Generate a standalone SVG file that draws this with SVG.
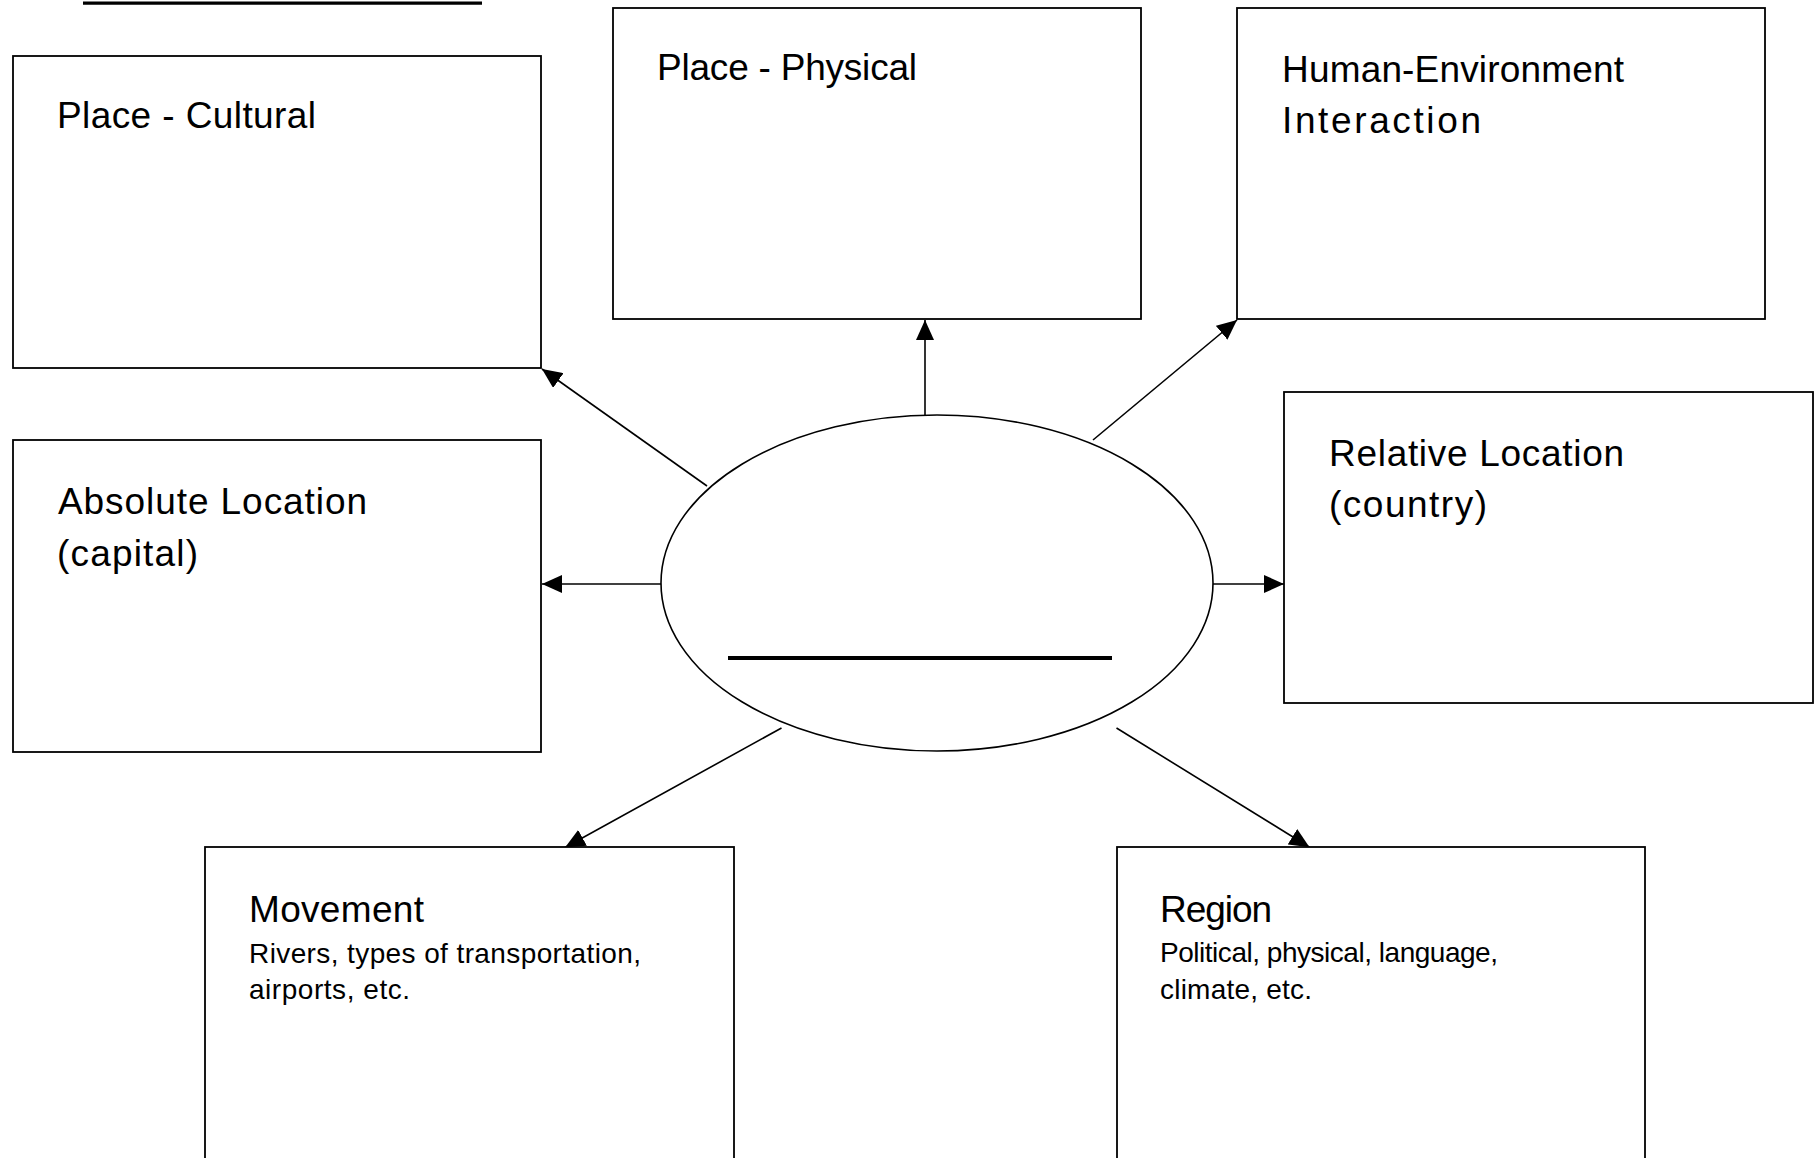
<svg xmlns="http://www.w3.org/2000/svg" width="1820" height="1158" viewBox="0 0 1820 1158">
  <style>
    .box { fill: #ffffff; stroke: #000000; stroke-width: 1.8; }
    .conn { fill: none; stroke: #000000; stroke-width: 1.6; }
    .title { font-family: "Liberation Sans", Arial, sans-serif; font-size: 37px; fill: #000000; }
    .sub { font-family: "Liberation Sans", Arial, sans-serif; font-size: 28px; fill: #000000; }
    .blank { stroke: #000000; fill: none; }
  </style>
  <defs>
    <marker id="arrow" markerUnits="userSpaceOnUse" markerWidth="20" markerHeight="18" viewBox="0 0 20 18" refX="20" refY="9" orient="auto">
      <path d="M0,0 L20,9 L0,18 z" fill="#000000"/>
    </marker>
  </defs>
  <rect x="0" y="0" width="1820" height="1158" fill="#ffffff"/>

  <g id="name-blank">
    <line class="blank" x1="83" y1="3.2" x2="482" y2="3.2" stroke-width="3.2"/>
  </g>

  <g id="connectors">
    <line class="conn" x1="707" y1="486" x2="542" y2="369" marker-end="url(#arrow)"/>
    <line class="conn" x1="925" y1="415" x2="925" y2="320" marker-end="url(#arrow)"/>
    <line class="conn" x1="1093" y1="440" x2="1237" y2="320" marker-end="url(#arrow)"/>
    <line class="conn" x1="661" y1="584" x2="542" y2="584" marker-end="url(#arrow)"/>
    <line class="conn" x1="1213" y1="584" x2="1284" y2="584" marker-end="url(#arrow)"/>
    <line class="conn" x1="781.5" y1="728" x2="565" y2="847.5" marker-end="url(#arrow)"/>
    <line class="conn" x1="1116.5" y1="728" x2="1309.5" y2="847.2" marker-end="url(#arrow)"/>
  </g>

  <g id="center">
    <ellipse cx="937" cy="583" rx="276" ry="168" fill="#ffffff" stroke="#000000" stroke-width="1.6"/>
    <line class="blank" x1="728" y1="658" x2="1112" y2="658" stroke-width="4"/>
  </g>

  <g id="place-cultural">
    <rect class="box" x="13" y="56" width="528" height="312"/>
    <text class="title" x="57" y="128" textLength="259">Place - Cultural</text>
  </g>

  <g id="place-physical">
    <rect class="box" x="613" y="8" width="528" height="311"/>
    <text class="title" x="657" y="80" textLength="260">Place - Physical</text>
  </g>

  <g id="human-environment">
    <rect class="box" x="1237" y="8" width="528" height="311"/>
    <text class="title" x="1282" y="82" textLength="342">Human-Environment</text>
    <text class="title" x="1282" y="133" textLength="199">Interaction</text>
  </g>

  <g id="absolute-location">
    <rect class="box" x="13" y="440" width="528" height="312"/>
    <text class="title" x="58" y="514" textLength="309">Absolute Location</text>
    <text class="title" x="57" y="566" textLength="141">(capital)</text>
  </g>

  <g id="relative-location">
    <rect class="box" x="1284" y="392" width="529" height="311"/>
    <text class="title" x="1329" y="466" textLength="295">Relative Location</text>
    <text class="title" x="1329" y="517" textLength="158">(country)</text>
  </g>

  <g id="movement">
    <rect class="box" x="205" y="847" width="529" height="340"/>
    <text class="title" x="249" y="922" textLength="175">Movement</text>
    <text class="sub" x="249" y="963" textLength="392">Rivers, types of transportation,</text>
    <text class="sub" x="249" y="999" textLength="161">airports, etc.</text>
  </g>

  <g id="region">
    <rect class="box" x="1117" y="847" width="528" height="340"/>
    <text class="title" x="1160" y="922" textLength="112">Region</text>
    <text class="sub" x="1160" y="962" textLength="338">Political, physical, language,</text>
    <text class="sub" x="1160" y="999" textLength="152">climate, etc.</text>
  </g>
</svg>
